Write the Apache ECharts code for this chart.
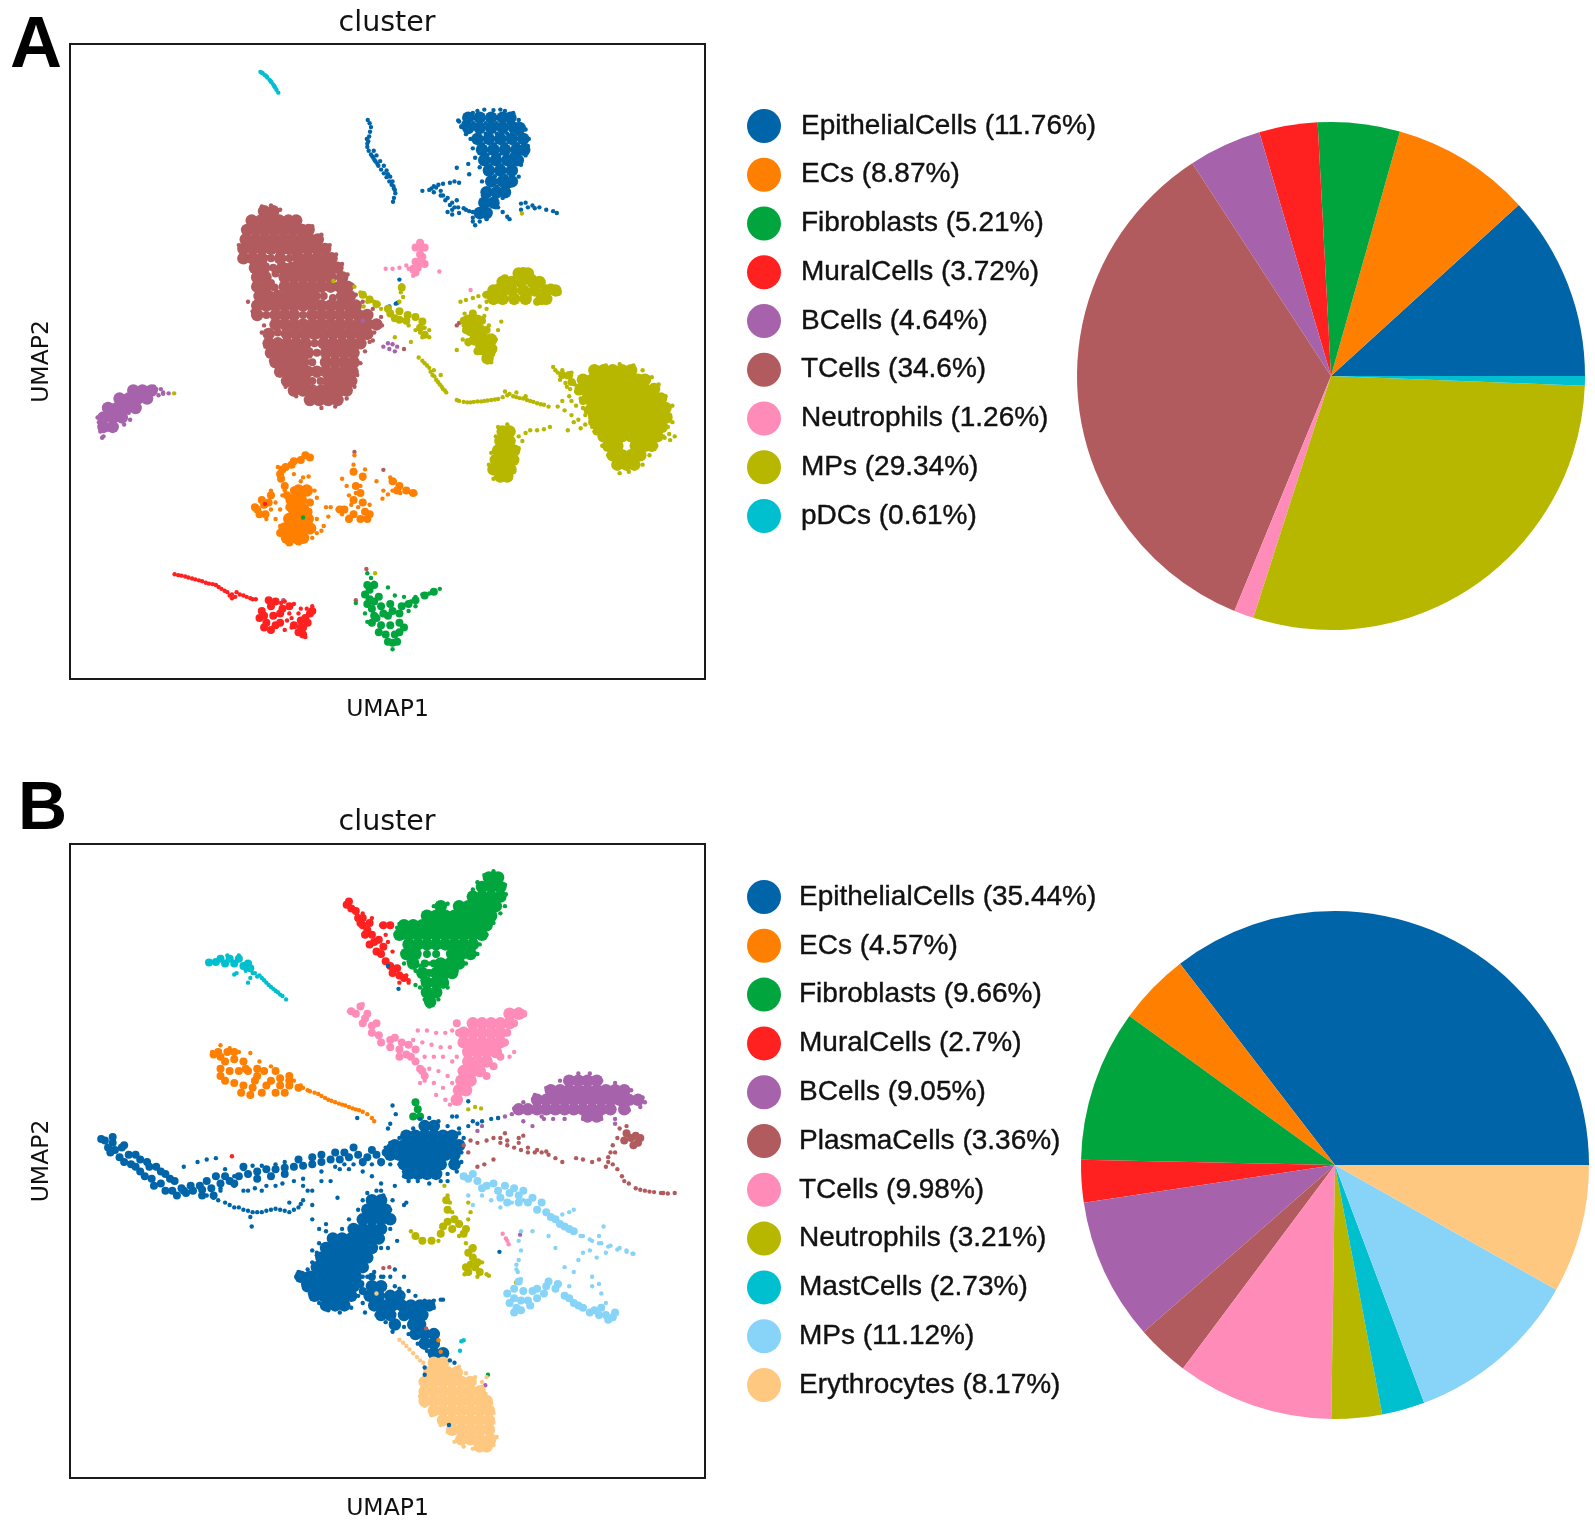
<!DOCTYPE html>
<html><head><meta charset="utf-8">
<style>html,body{margin:0;padding:0;background:#fff}#c{width:1595px;height:1522px}</style>
<script src="https://cdn.jsdelivr.net/npm/echarts@6/dist/echarts.min.js"></script>
</head><body><div id="c"></div>
<script>
// pie shares
const namesA=['EpithelialCells','ECs','Fibroblasts','MuralCells','BCells','TCells','Neutrophils','MPs','pDCs'];
const pctA=[11.76,8.87,5.21,3.72,4.64,34.6,1.26,29.34,0.61];
const namesB=['EpithelialCells','ECs','Fibroblasts','MuralCells','BCells','PlasmaCells','TCells','Neutrophils','MastCells','MPs','Erythrocytes'];
const pctB=[35.44,4.57,9.66,2.7,9.05,3.36,9.98,3.21,2.73,11.12,8.17];

// Panel A readings. *Rows = [umap2, umap1, umap1...]; others = [umap1, umap2]
const aTRows=[[448,575,595],[468,548,568,588,608,628,645],[488,538,558,578,598,618,638,658,672],[508,535,555,575,595,615,635,655,675,692],[528,530,550,570,590,610,630,650,670,690,708],[548,530,550,570,610,650,670,690,710,722],[568,555,575,615,635,655,675,695,715,735],[588,560,578,620,640,660,680,700,720,745],[608,560,580,620,640,660,680,700,720,740,757],[628,565,585,605,625,645,665,685,745,762],[648,560,580,600,620,640,660,680,700,720,740,760,775],[668,560,600,620,640,680,700,720,740,760,780,800],[688,600,620,640,660,680,700,720,740,760,780,800,820],[708,585,625,645,665,685,705,725,745,765,785,800],[728,585,605,625,645,665,705,725,745,765,785],[748,590,610,630,650,670,710,730,750,770],[768,600,620,640,660,710,730,750,770],[788,610,630,650,670,690,710,730,750,768],[808,625,645,665,715,735,755,765],[828,640,660,680,700,720,740,755],[848,675,695,715,735]];
const aTMid=[[590,548],[630,548],[595,568],[598,610],[705,628],[725,632],[580,668],[660,668],[605,705],[685,728],[690,748],[680,768],[680,808],[698,808],[590,600],[600,580]];
const aTDots=[[520,520],[530,525],[548,520],[560,525],[575,530],[590,525],[600,528],[570,540],[585,545],[605,540],[620,535],[640,540],[635,548],[650,540],[660,548],[672,555],[685,575],[700,575],[718,572],[700,560],[812,722],[880,740],[995,690],[1000,685],[772,958],[835,996],[617,1272],[798,1206],[775,1272],[590,436],[570,438],[610,445],[650,462],[680,480],[700,498],[718,520],[732,540],[745,560],[757,582],[768,605],[775,625],[790,640],[812,655],[830,672],[832,690],[815,705],[805,725],[795,745],[785,770],[778,795],[772,820],[755,845],[730,862],[700,865],[670,855],[645,840],[622,820],[605,795],[590,765],[578,735],[570,705],[575,690],[550,660],[540,640]];
const aEpiRows=[[250,1020,1045,1070,1095,1112],[272,1020,1045,1070,1095,1120,1132],[295,1040,1065,1090,1115,1140],[318,1050,1075,1100,1125,1142],[340,1055,1080,1105,1128],[362,1065,1090,1115],[385,1070,1095,1115],[408,1060,1082,1100],[430,1055,1075],[452,1045,1060]];
const aEpiDots=[[801,255],[805,262],[808,270],[806,280],[804,290],[802,300],[800,312],[803,320],[808,328],[813,335],[818,343],[824,352],[830,360],[836,368],[842,376],[848,385],[853,392],[858,400],[861,410],[858,420],[856,428],[814,320],[820,330],[828,342],[836,352],[842,362],[850,375],[855,385],[998,256],[1010,262],[1005,268],[1040,236],[1075,234],[1100,236],[1035,478],[1030,470],[920,405],[935,403],[945,395],[955,392],[965,390],[945,408],[960,415],[970,425],[985,430],[995,425],[998,440],[975,450],[985,455],[1000,452],[980,388],[990,385],[1000,388],[995,356],[1020,348],[1022,370],[1015,445],[1030,450],[1045,452],[1085,440],[1095,450],[1105,460],[1110,465],[1135,432],[1145,430],[1135,445],[1150,440],[1160,436],[1175,440],[1190,445],[1205,448],[1213,452],[1165,442],[870,593],[848,650],[866,642],[862,644],[1000,258],[1015,245],[1030,240],[1055,233],[1090,233],[1118,240],[1130,255],[1145,275],[1152,295],[1150,310],[1145,330],[1135,350],[1130,375],[1110,395],[1095,420],[1080,440],[1060,465],[1045,470],[1040,455],[1030,462],[1052,415],[1050,385],[1045,355],[1035,335],[1030,315],[1025,295],[1015,285],[1005,270],[800,305],[799,295],[811,332],[816,340],[822,348],[845,370],[857,395],[860,403],[940,400],[950,398],[960,405],[965,415],[975,420],[980,435],[990,440],[985,445],[1010,442],[1022,448],[1032,262],[1058,262],[1082,262],[1108,262],[1058,284],[1082,284],[1105,284],[1128,284],[1052,306],[1078,306],[1102,306],[1128,306],[1062,329],[1088,329],[1115,329],[1068,351],[1092,351],[1118,351],[1078,374],[1102,374],[1082,396],[1106,396]];
const aMpRows=[[580,1130,1150],[598,1095,1115,1135,1160,1175],[616,1075,1095,1115,1140,1165,1190,1210],[634,1075,1095,1120,1145,1180,1190],[680,1020,1040],[700,1025,1045],[720,1035,1055,1070],[740,1050,1070],[760,1062],[785,1295,1315,1335,1355,1375],[805,1270,1290,1310,1330,1350,1370,1390,1405],[825,1265,1285,1305,1325,1345,1365,1385,1405,1425],[845,1280,1300,1320,1340,1360,1380,1400,1420,1440],[865,1290,1310,1330,1350,1370,1390,1410,1430,1450],[885,1295,1315,1335,1355,1375,1395,1415,1435,1452],[905,1305,1325,1345,1365,1385,1405,1425,1442],[925,1315,1335,1355,1375,1395,1415,1432],[945,1325,1345,1385,1405,1420],[965,1335,1355,1375,1395],[985,1345,1365,1382],[915,1095,1110],[935,1090,1110],[955,1085,1105,1120],[975,1080,1100,1118],[995,1075,1095,1112],[1010,1090,1105]];
const aMpMid=[[850,665],[870,660],[888,668],[905,672],[870,678],[920,682],[1100,590],[1140,575],[1160,590],[1180,600],[1200,610],[1215,620],[1150,625],[1170,640],[1085,610],[1060,625],[1010,680],[1030,665],[1015,700],[1050,680],[1060,700],[1070,750],[1050,725],[1020,725],[1040,745],[1245,810],[1260,830],[1270,850],[1280,870],[1240,795],[1225,795],[1290,895],[1300,915],[790,625],[805,635],[820,645],[845,655],[860,675],[885,680],[915,695],[925,710],[875,610]];
const aMpDots=[[1003,640],[1015,636],[1030,632],[1042,628],[1055,625],[1065,620],[1045,650],[1060,655],[1055,670],[1012,665],[1030,670],[1065,690],[1092,682],[1010,690],[1008,720],[1020,730],[995,742],[1080,720],[1075,735],[1040,735],[1060,640],[1070,768],[1055,755],[1085,700],[772,608],[785,620],[795,628],[805,632],[815,640],[825,645],[800,640],[792,650],[830,655],[875,605],[873,620],[878,630],[870,640],[925,695],[935,700],[915,705],[905,700],[920,715],[935,715],[895,725],[860,715],[890,690],[912,758],[925,770],[935,780],[942,795],[950,805],[958,815],[965,825],[972,832],[945,785],[960,795],[995,848],[1010,852],[1025,853],[1040,851],[1055,850],[1070,848],[1085,846],[1095,842],[1100,830],[1110,835],[1125,842],[1140,845],[1155,850],[1170,855],[1185,858],[1195,862],[1125,832],[1145,840],[1205,778],[1215,790],[1225,785],[1235,800],[1245,790],[1250,810],[1220,805],[1235,820],[1255,830],[1265,845],[1245,850],[1270,865],[1215,862],[1230,870],[1245,880],[1260,890],[1275,900],[1285,880],[1237,912],[1265,908],[1295,915],[1310,930],[1458,920],[1470,925],[1460,933],[1448,928],[1085,905],[1105,900],[1130,925],[1145,918],[1155,912],[1170,912],[1185,910],[1198,905],[1138,935],[379,834],[726,596],[1137,453],[817,1215],[1210,785],[1222,798],[1232,812],[1242,825],[1252,815],[1240,840],[1255,860],[1275,880],[1250,895],[1225,850],[1290,905],[1460,880],[1465,860],[1450,840],[1435,815],[1420,800],[1400,785],[1380,775],[1350,772],[1320,775],[1295,780],[1465,895],[1455,905],[1445,925],[1430,945],[1415,965],[1400,985],[1370,1000],[1350,1003],[1338,985],[1325,965],[1312,945],[920,765],[930,775],[938,788],[946,798],[954,810],[962,820],[969,828],[1000,850],[1018,853],[1032,852],[1048,851],[1062,849],[1078,847],[1105,838],[1118,840],[1132,844],[1148,848],[1162,852],[1178,857],[1075,1015],[1065,985],[1070,960],[1080,925],[1130,950],[1125,975],[1120,1000]];
const aPinkMid=[[918,525],[915,540],[915,555],[910,568],[905,578],[905,525],[925,525],[920,545],[905,555],[925,560],[915,515],[900,570]];
const aPinkDots=[[840,570],[855,570],[870,568],[885,563],[897,575],[900,585],[957,576],[1025,615],[890,570]];
const aBRows=[[905,225,245],[885,225,245,265],[865,235,255,275,295],[845,260,280,300,320],[828,290,310,330]];
const aBDots=[[222,928],[218,915],[212,885],[345,838],[355,835],[367,834],[335,820],[350,825],[283,890],[270,900],[835,735],[848,740],[855,730],[860,745],[845,728],[865,735],[790,680],[215,895],[225,925],[235,910],[255,890],[280,875],[300,865],[320,830],[340,825],[355,832]];
const aEcRows=[[1040,650,668],[1060,635,655],[1080,640,660],[1100,630,650,670],[1120,620,640,660,675],[1140,625,645,660]];
const aEcMid=[[675,970],[655,975],[635,985],[615,995],[612,1015],[620,1030],[590,1050],[575,1070],[560,1080],[578,1090],[770,1060],[790,1065],[795,1085],[750,1080],[770,1090],[800,1100],[870,1030],[885,1040],[665,965],[640,978],[622,990],[610,1005],[625,1050],[640,1040],[630,1075],[675,1065],[672,1085],[610,1130],[630,1150],[650,1148],[555,1075],[570,1060],[585,1065],[565,1090],[680,1120],[775,1030],[785,1045],[770,1000],[790,1010],[740,1080],[760,1100],[785,1100],[805,1090],[855,1020],[900,1045],[865,1040]];
const aEcDots=[[605,990],[640,1005],[660,1012],[672,1010],[685,1040],[690,1055],[600,1065],[610,1080],[590,1080],[600,1100],[610,1115],[690,1100],[705,1115],[700,1125],[715,1095],[690,1130],[680,1140],[615,1050],[620,1040],[655,1020],[710,1075],[720,1075],[590,1040],[580,1100],[772,965],[770,985],[768,1000],[745,1015],[795,995],[790,1015],[785,1030],[775,1045],[760,1050],[755,1030],[735,1080],[745,1090],[760,1095],[780,1075],[805,1070],[820,1020],[765,1070],[850,1012],[860,1020],[905,1046],[895,1045],[855,1040],[845,1048],[833,1057],[835,1040],[872,1045]];
const aRedMid=[[590,1285],[575,1305],[595,1305],[580,1320],[600,1325],[610,1300],[660,1330],[655,1315],[675,1300],[650,1340],[570,1295],[565,1310],[575,1330],[590,1335],[610,1320],[615,1290],[630,1285],[665,1310],[680,1295],[640,1325],[660,1345],[670,1320],[585,1272],[600,1275],[655,1330]];
const aRedDots=[[380,1217],[395,1220],[410,1224],[425,1228],[440,1232],[455,1237],[470,1240],[482,1248],[495,1255],[505,1260],[515,1255],[505,1268],[530,1262],[545,1268],[557,1270],[620,1275],[640,1280],[655,1290],[680,1285],[630,1300],[625,1315],[635,1310],[620,1335],[635,1330],[665,1350],[612,1278],[650,1300],[668,1290],[577,1068],[388,1219],[403,1222],[418,1226],[433,1230],[448,1235],[463,1238],[476,1244],[489,1252],[500,1262],[512,1265],[522,1260],[537,1265],[550,1270]];
const aGreenMid=[[805,1250],[805,1270],[825,1265],[810,1290],[830,1285],[850,1280],[820,1310],[845,1305],[830,1325],[850,1325],[870,1320],[840,1345],[860,1345],[855,1362],[870,1300],[870,1340],[800,1240],[795,1260],[800,1280],[815,1240],[815,1275],[835,1300],[855,1295],[875,1285],[810,1320],[815,1305],[825,1340],[845,1360],[865,1360],[880,1330],[890,1280],[905,1272],[925,1262],[945,1254]];
const aGreenDots=[[800,1215],[808,1225],[815,1235],[885,1280],[895,1275],[905,1265],[920,1260],[935,1258],[945,1255],[958,1248],[880,1265],[905,1285],[890,1295],[845,1245],[860,1262],[775,1278],[795,1300],[800,1318],[855,1376],[660,1097]];
const aCyanDots=[[567,153],[572,156],[577,160],[582,165],[587,170],[591,175],[595,180],[599,186],[602,191],[606,197],[570,155],[580,162],[589,172],[597,183]];

// Panel B readings
const bEpiRows=[[745,925,945],[765,885,905,925,945,965,985],[785,860,880,900,920,940,960,980,1000],[805,850,870,890,910,930,950,970,990],[825,880,900,920,940,960,990],[845,890,910,930,950],[900,810,830],[920,800,820,840],[940,790,810,830,850],[960,770,790,810,830],[980,725,745,765,785,805,825],[1000,710,730,750,770,790,810],[1020,700,720,740,760,780,800],[1040,690,710,730,750,770,790],[1060,655,675,695,715,735,755,775],[1080,670,690,710,730,750,770,810,830],[1100,685,705,725,745,765,805,825,850,870],[1120,710,730,750,815,835,855,875,895,915,935],[1140,830,850,880,900,920],[1160,860,900,915],[1180,905,925,945],[1200,925,945],[1220,945,965]];
const bEpiMid=[[840,800],[820,805],[800,810],[780,805],[760,810],[740,815],[720,815],[700,820],[680,825],[660,828],[640,830],[620,832],[600,835],[580,835],[560,840],[540,845],[520,850],[500,860],[480,865],[460,875],[440,878],[420,880],[400,880],[228,775],[245,780],[265,790],[240,800],[260,810],[280,805],[285,825],[305,815],[305,840],[325,830],[330,855],[350,840],[350,865],[370,855],[375,880],[395,875],[415,870],[435,870],[850,790],[830,820],[810,795],[790,820],[770,790],[750,800],[730,800],[700,805],[680,810],[650,815],[620,845],[590,850],[560,855],[530,830],[510,865],[490,850],[470,850],[450,860],[440,890],[465,890],[220,772],[235,790],[250,795],[270,820],[295,830],[315,850],[335,870],[360,880],[385,890],[405,885],[320,820],[340,830],[360,845],[380,860],[245,768],[270,785],[295,805],[790,1090],[785,1075],[810,1060]];
const bEpiDots=[[400,830],[430,820],[450,815],[470,812],[490,835],[510,850],[530,835],[550,828],[570,828],[600,825],[620,820],[440,885],[465,895],[490,905],[510,915],[530,920],[550,925],[570,925],[590,920],[610,920],[630,925],[650,915],[660,900],[545,935],[548,955],[630,905],[680,880],[700,860],[720,860],[735,895],[680,910],[480,875],[510,870],[540,880],[570,880],[600,870],[640,860],[660,855],[700,840],[740,835],[760,835],[790,840],[810,850],[830,865],[860,870],[880,910],[855,702],[862,720],[850,740],[845,750],[778,728],[985,725],[995,725],[1020,693],[1030,735],[1050,735],[1070,730],[1085,728],[1000,750],[1020,745],[1040,740],[855,900],[850,920],[850,960],[845,1000],[680,940],[695,960],[710,950],[680,1005],[690,1015],[830,1000],[860,1045],[880,1060],[870,1085],[890,1090],[905,1100],[925,1110],[945,1110],[965,1108],[865,985],[980,1235],[990,1240],[900,1145],[925,1250],[925,1265],[820,880],[835,890],[885,905],[1088,1008],[978,1370],[868,458],[845,410],[900,750],[880,760],[870,770],[850,780],[840,790],[1010,770],[1005,800],[1005,820],[995,840],[975,845],[975,860],[960,860],[935,865],[910,860],[890,860],[880,840],[870,825],[850,825],[830,825],[810,825],[790,825],[770,825],[750,825],[730,830],[880,850],[915,730],[935,728],[955,735],[975,745],[1000,760],[450,890],[475,900],[500,910],[520,915],[540,922],[560,925],[580,922],[600,918],[620,922],[640,920],[655,908],[480,880],[530,880],[555,875],[580,870],[615,865],[670,880],[470,850],[660,870],[790,900],[800,885],[830,880],[780,920],[760,940],[745,960],[710,965],[695,990],[690,1010],[680,1030],[670,1045],[650,1050],[645,1060],[660,1075],[675,1095],[695,1115],[715,1130],[740,1135],[765,1125],[790,1115],[780,1100],[790,1060],[800,1060],[815,1050],[835,1060],[850,1060],[860,1080],[830,1060],[820,1140],[840,1155],[855,1175],[880,1165],[890,1180],[910,1200],[930,1215],[960,1108],[945,1125],[810,1120],[795,1135]];
const bGreenRows=[[225,1065,1085],[245,1050,1070,1090],[265,1030,1050,1070,1090],[285,960,1000,1020,1040,1060,1080],[305,930,950,970,990,1010,1030,1050,1070],[325,880,900,920,940,960,980,1000,1020,1040,1060],[345,870,890,910,930,950,970,990,1010,1030,1050],[365,890,910,930,950,970,990,1010,1030],[385,885,905,985,1005,1025],[405,900,960,980,1000],[425,920,950,970,985],[445,930,950,965],[465,930,950],[485,937]];
const bGreenMid=[[905,695],[910,710],[915,725],[900,725],[930,385],[950,385],[925,405],[945,405],[935,425]];
const bGreenDots=[[870,322],[862,345],[885,375],[880,405],[915,410],[935,405],[905,450],[915,455],[925,470],[935,495],[1097,270],[1100,285],[1063,1265],[1100,240],[1075,212],[1055,220],[1102,260],[1090,300],[1075,320],[1060,345],[1045,365],[1040,385],[1015,405],[995,420],[975,455],[955,480],[925,480],[880,340],[865,330],[890,400],[905,420],[920,440],[945,285],[975,280],[1030,250],[1040,235]];
const bRedMid=[[765,290],[780,310],[800,335],[815,360],[830,385],[850,410],[870,430],[790,325],[810,345],[755,282],[760,275],[775,295],[790,310],[805,320],[785,320],[795,345],[805,365],[820,380],[825,355],[835,370],[840,400],[855,425],[865,415],[880,435],[850,325],[835,325]];
const bRedDots=[[790,300],[810,310],[830,325],[850,325],[845,360],[855,380],[840,345],[885,430],[890,440],[870,445],[505,808],[890,445]];
const bCyanMid=[[470,402],[490,405],[510,405],[530,410],[545,415],[455,403],[480,395],[500,395],[520,395],[540,405]];
const bCyanDots=[[452,402],[515,425],[510,428],[540,445],[545,435],[555,425],[565,430],[575,440],[585,450],[595,458],[605,465],[615,473],[623,480],[495,388],[520,388],[1005,1195],[1010,1193],[1002,1215],[535,420],[550,425],[560,432],[570,435],[580,445],[590,454],[600,462],[610,470]];
const bPinkRows=[[510,1130,1110],[530,1030,1050,1070,1090,1110],[550,1010,1030,1050,1070,1090],[570,1010,1030,1050,1070,1090],[590,1020,1040,1060,1080],[610,1020,1040,1060],[630,1010,1030,1045],[650,1005,1025],[670,1000,1015],[690,995]];
const bPinkMid=[[775,510],[795,520],[810,535],[825,555],[850,565],[870,585],[885,595],[905,610],[920,630],[765,505],[785,495],[800,510],[820,530],[790,530],[810,550],[830,570],[850,580],[860,560],[875,570],[890,575],[895,600],[870,600],[915,625],[925,640],[905,585],[995,530],[1000,550],[1130,505],[1140,510],[1120,530],[1105,550],[1100,570],[1090,600],[1075,620],[1060,640]];
const bPinkDots=[[910,545],[930,545],[950,550],[970,550],[985,545],[900,565],[920,570],[940,575],[960,580],[980,580],[995,600],[925,600],[945,600],[965,600],[985,610],[935,625],[955,630],[975,640],[925,650],[945,655],[965,665],[985,655],[915,655],[950,680],[970,690],[980,700],[1110,600],[1120,590],[760,505],[790,490],[1095,970],[1102,980],[1108,992],[1105,985]];
const bEcMid=[[475,590],[495,590],[490,610],[510,605],[530,610],[500,630],[520,630],[540,630],[560,640],[490,650],[510,655],[530,660],[550,665],[575,630],[600,630],[580,660],[610,660],[630,660],[610,645],[630,640],[465,595],[480,600],[480,625],[480,640],[510,590],[535,625],[560,625],[590,650],[630,650],[555,650],[570,675],[545,680],[525,675],[600,675],[620,675],[650,665]];
const bEcDots=[[462,590],[480,576],[500,582],[520,590],[545,592],[565,610],[590,620],[640,650],[655,660],[670,670],[685,675],[700,682],[715,690],[730,695],[745,700],[760,705],[775,710],[790,715],[800,720],[810,728],[815,735],[960,1217],[955,1193],[660,665],[675,672],[693,678],[708,686],[722,692],[738,698],[752,702],[768,708],[782,712]];
const bOliveMid=[[975,945],[985,960],[960,970],[1000,950],[1015,960],[940,985],[1030,1020],[1035,1040],[1020,1050],[965,955],[990,940],[1010,970],[905,975],[920,985],[1025,1035],[1040,1030],[1015,1040],[1045,1050],[1020,1010],[1030,1000],[975,920],[972,900]];
const bOliveDots=[[968,870],[975,890],[980,905],[985,925],[1020,905],[1025,925],[1020,940],[895,965],[905,975],[920,985],[955,985],[1000,975],[1015,990],[1030,1005],[1050,1030],[1060,1055],[1012,1055],[1040,1060],[1065,1058],[1025,1000],[1020,710],[1035,705],[1048,708],[1124,1072]];
const bPurpleRows=[[650,1240,1260,1280,1300],[670,1200,1220,1240,1260,1280,1300,1320,1340,1360],[690,1170,1190,1210,1230,1250,1270,1290,1310,1330,1350,1370,1390],[710,1130,1150,1170,1190,1210,1230,1250,1270,1290,1310,1330,1360],[725,1280,1300]];
const bPurpleDots=[[1085,728],[1100,725],[1115,720],[1140,735],[1160,745],[1185,730],[1205,730],[1230,730],[1340,740],[1405,695],[1050,745],[1040,755],[1133,972],[1057,1287],[1260,635],[1285,635],[1310,650],[1340,655],[1375,670],[1400,685],[1395,705],[1370,712],[1220,650],[1190,665],[1165,680],[1140,695],[1120,708],[1340,730],[1310,730],[1270,730],[1180,725]];
const bPlasmaMid=[[1375,770],[1390,780],[1385,765],[1365,760],[1380,785],[1395,770],[1360,775]];
const bPlasmaDots=[[1010,785],[1025,775],[1040,780],[1060,775],[1075,770],[1090,780],[1105,785],[1120,790],[1135,795],[1150,800],[1165,800],[1180,800],[1195,805],[1210,812],[1225,820],[1130,770],[1100,760],[1140,765],[1040,830],[1055,825],[1075,815],[1020,800],[1255,812],[1270,815],[1290,820],[1305,815],[1325,820],[1330,800],[1335,785],[1345,770],[1350,750],[1365,745],[1345,835],[1355,850],[1370,865],[1385,875],[1405,880],[1425,883],[1445,885],[1470,885],[1320,830],[1335,825],[835,1042],[848,1040],[928,1168],[1090,770],[1105,775],[1130,780],[1150,790],[1170,795],[1190,798],[1340,800],[1325,810],[1360,860],[1440,885],[1395,878],[1415,882],[1455,886]];
const bLightMid=[[1020,855],[1040,860],[1060,870],[1085,880],[1110,885],[1130,890],[1150,905],[1170,920],[1190,925],[1210,940],[1230,955],[1250,965],[1120,1085],[1120,1105],[1125,1125],[1140,1090],[1150,1110],[1170,1085],[1190,1080],[1170,1105],[1210,1085],[1230,1100],[1250,1115],[1270,1125],[1295,1130],[1320,1140],[1335,1145],[1010,850],[1030,845],[1050,875],[1075,865],[1100,870],[1120,875],[1140,880],[1160,895],[1180,905],[1130,905],[1105,905],[1090,895],[1200,935],[1220,950],[1240,960],[1105,1095],[1110,1115],[1120,1135],[1135,1130],[1135,1110],[1160,1090],[1185,1095],[1195,1070],[1215,1075],[1240,1105],[1260,1120],[1285,1135],[1305,1140],[1325,1150],[1340,1135],[1310,1125],[1155,1120],[1130,1070]];
const bLightDots=[[1050,890],[1070,900],[1090,915],[1115,905],[1140,900],[1020,890],[1030,910],[1240,925],[1225,930],[1250,920],[1270,975],[1290,985],[1310,990],[1330,995],[1350,1000],[1365,1005],[1380,1012],[1315,955],[1305,975],[1285,1005],[1300,1020],[1320,1010],[1270,1010],[1260,1025],[1230,1040],[1250,1050],[1195,975],[1210,1000],[1160,965],[1135,965],[1130,985],[1135,1005],[1130,1025],[1125,1045],[1290,1060],[1305,1075],[1310,1095],[1320,1115],[1290,1080],[1240,1080],[1220,1075],[1135,1065],[1265,975],[1285,982],[1305,990],[1325,997],[1345,1003],[1365,1008],[1378,1012],[1128,1050],[1125,1035]];
const bPeachRows=[[1240,945,965],[1260,935,955,975,995],[1280,925,945,965,985,1005,1025],[1300,925,945,965,985,1005,1025,1045],[1320,925,945,965,985,1005,1025,1045,1060],[1340,945,965,985,1005,1025,1045,1065],[1360,965,985,1005,1025,1045,1065],[1380,985,1005,1025,1045,1065],[1400,1005,1025,1045,1068],[1415,1045,1060]];
const bPeachDots=[[870,1192],[885,1205],[900,1220],[915,1235],[1050,1280],[1060,1270],[820,1095],[915,1310],[925,1330],[940,1350],[960,1370],[975,1385],[990,1405],[1010,1415],[1030,1420],[1075,1412],[1082,1395],[1075,1365],[1075,1345],[1070,1325],[1058,1305],[1050,1290],[1035,1270],[1015,1262],[1000,1248],[975,1235],[955,1235],[878,1198],[892,1212],[908,1228],[922,1240]];

const BLUE='#0064a8',ORANGE='#ff7f00',GREEN='#00a53e',RED='#ff2020',PURPLE='#a662ab',BROWN='#b25b5e',PINK='#ff8bb8',OLIVE='#b7b700',CYAN='#00bfcf',LIGHT='#87d4f8',PEACH='#ffc880';
const colorsA=[BLUE,ORANGE,GREEN,RED,PURPLE,BROWN,PINK,OLIVE,CYAN];
const colorsB=[BLUE,ORANGE,GREEN,RED,PURPLE,BROWN,PINK,OLIVE,CYAN,LIGHT,PEACH];
const rows=r=>r.flatMap(([y,...xs])=>xs.map(x=>[x,y]));
const CORE=12.5,MID=8,DOT=4.4;
const layersA=[[aTRows,CORE,BROWN,1],[aTMid,MID,BROWN],[aTDots,DOT,BROWN],[aEpiRows,CORE,BLUE,1],[aEpiDots,DOT,BLUE],[aMpRows,CORE,OLIVE,1],[aMpMid,MID,OLIVE],[aMpDots,DOT,OLIVE],[aPinkMid,MID,PINK],[aPinkDots,DOT,PINK],[aBRows,CORE,PURPLE,1],[aBDots,DOT,PURPLE],[aEcRows,CORE,ORANGE,1],[aEcMid,MID,ORANGE],[aEcDots,DOT,ORANGE],[aRedMid,MID,RED],[aRedDots,DOT,RED],[aGreenMid,MID,GREEN],[aGreenDots,DOT,GREEN],[aCyanDots,DOT,CYAN]];
const layersB=[[bEpiRows,CORE,BLUE,1],[bEpiMid,MID,BLUE],[bGreenRows,CORE,GREEN,1],[bGreenMid,MID,GREEN],[bGreenDots,DOT,GREEN],[bRedMid,MID,RED],[bRedDots,DOT,RED],[bCyanMid,MID,CYAN],[bCyanDots,DOT,CYAN],[bPinkRows,CORE,PINK,1],[bPinkMid,MID,PINK],[bPinkDots,DOT,PINK],[bEcMid,MID,ORANGE],[bEcDots,DOT,ORANGE],[bOliveMid,MID,OLIVE],[bOliveDots,DOT,OLIVE],[bPurpleRows,CORE,PURPLE,1],[bPurpleDots,DOT,PURPLE],[bPlasmaMid,MID,BROWN],[bPlasmaDots,DOT,BROWN],[bLightMid,MID,LIGHT],[bLightDots,DOT,LIGHT],[bPeachRows,CORE,PEACH,1],[bPeachDots,DOT,PEACH],[bEpiDots,DOT,BLUE]];
const scat=(layers,i)=>layers.map(([d,s,c,isRows])=>({type:'scatter',xAxisIndex:i,yAxisIndex:i,silent:true,symbolSize:s,itemStyle:{color:c,opacity:1},data:isRows?rows(d):d}));
const label=(n,p)=>n+' ('+p+'%)';
const pie=(names,pct,colors,cx,cy)=>({type:'pie',silent:true,center:[cx,cy],radius:[0,254],startAngle:0,clockwise:false,label:{show:false},labelLine:{show:false},itemStyle:{borderWidth:0},
  data:names.map((n,i)=>({name:label(n,pct[i]),value:pct[i],itemStyle:{color:colors[i]}}))});
const legend=(names,pct,left,top,gap,pad)=>({orient:'vertical',left,top,icon:'circle',itemWidth:34,itemHeight:34,itemGap:gap,selectedMode:false,
  textStyle:{fontFamily:'Liberation Sans',fontSize:28,color:'#111',textBorderColor:'#111',textBorderWidth:0.4,padding:[0,0,0,pad]},data:names.map((n,i)=>label(n,pct[i]))});
const xA=(g)=>({gridIndex:g,type:'value',min:152,max:1536,position:'bottom',name:'UMAP1',nameLocation:'middle',nameGap:19,nameTextStyle:{fontFamily:'DejaVu Sans',fontSize:23.5,color:'#111'},axisLine:{show:false},axisTick:{show:false},axisLabel:{show:false},splitLine:{show:false}});
const yA=(g,lo,hi)=>({gridIndex:g,type:'value',min:lo,max:hi,inverse:true,name:'UMAP2',nameLocation:'middle',nameGap:16,nameTextStyle:{fontFamily:'DejaVu Sans',fontSize:23.5,color:'#111'},axisLine:{show:false},axisTick:{show:false},axisLabel:{show:false},splitLine:{show:false}});
const grid=(top)=>({left:70,top,width:635,height:635,show:true,backgroundColor:'#fff',borderColor:'#1a1a1a',borderWidth:2,containLabel:false});
const chart=echarts.init(document.getElementById('c'),null,{renderer:'canvas'});
chart.setOption({animation:false,backgroundColor:'#fff',
 title:[
  {text:'cluster',left:382,top:4,textAlign:'center',textStyle:{fontFamily:'DejaVu Sans',fontSize:28.5,fontWeight:'normal',color:'#111'}},
  {text:'cluster',left:382,top:803,textAlign:'center',textStyle:{fontFamily:'DejaVu Sans',fontSize:28.5,fontWeight:'normal',color:'#111'}},
  {text:'A',left:5,top:6,textStyle:{fontFamily:'Liberation Sans',fontSize:72,fontWeight:'bold',color:'#000'}},
  {text:'B',left:13,top:771,textStyle:{fontFamily:'Liberation Sans',fontSize:68,fontWeight:'bold',color:'#000'}}],
 grid:[grid(44),grid(844)],
 xAxis:[xA(0),xA(1)],yAxis:[yA(0,94,1439),yA(1,155,1481)],
 legend:[legend(namesA,pctA,742,104,14.75,15),legend(namesB,pctB,742,875,14.8,13)],
 series:[...scat(layersA,0),...scat(layersB,1),pie(namesA,pctA,colorsA,1331,376),pie(namesB,pctB,colorsB,1335,1165)]
});
</script></body></html>
